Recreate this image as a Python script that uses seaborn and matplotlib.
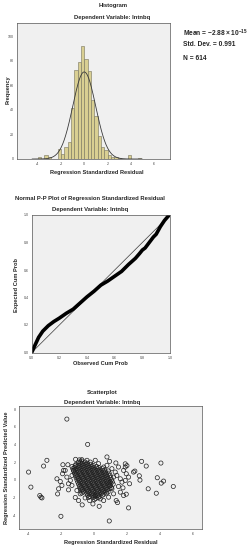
"""SPSS-style regression residual diagnostics: histogram, P-P plot, scatterplot"""

import numpy as np
import pandas as pd
import matplotlib
matplotlib.use("Agg")
import matplotlib.pyplot as plt
import seaborn as sns

# histogram of standardized residuals (bin index * width = left edge)
bin_width = 0.2875
bin_index = list(range(-14, 17))
bin_counts = [2, 0, 3, 2, 0, 0, 8, 4, 10, 14, 42, 73, 79, 92, 82, 72,
              48, 35, 19, 10, 7, 3, 2, 2, 1, 0, 0, 3, 0, 0, 1]
resid_mean = -2.88e-15
resid_sd = 0.991
n_obs = 614

# normal P-P plot
obs_cum = [0.0, 0.02, 0.05, 0.08, 0.12, 0.16, 0.20, 0.25, 0.30, 0.35, 0.40,
           0.45, 0.50, 0.55, 0.60, 0.65, 0.70, 0.75, 0.78, 0.80, 0.82, 0.85,
           0.88, 0.90, 0.93, 0.96, 0.99, 1.0]
exp_cum = [0.0, 0.045, 0.11, 0.155, 0.195, 0.225, 0.25, 0.285, 0.315, 0.36,
           0.405, 0.445, 0.49, 0.52, 0.555, 0.59, 0.64, 0.685, 0.72, 0.745,
           0.76, 0.80, 0.84, 0.86, 0.915, 0.96, 0.995, 1.0]

# scatterplot: isolated points
out_x = [-1.66, -0.40, -3.98, -3.84, -2.87, -3.07, -3.30, -3.23, -3.17, -2.02,
         -2.22, -2.16, -2.26, -2.06, -1.96, -1.92, -1.86, -1.90, -1.60, -1.56,
         -1.13, -1.15, -0.73, -0.08, 0.30, 0.91, 0.93, 1.31, 1.88, 2.08,
         1.94, 1.33, 1.41, 2.38, 2.46, 2.73, 2.77, 2.87, 3.15, 3.27,
         3.76, 3.82, 4.04, 4.06, 4.20, 4.79]
out_y = [6.86, 4.00, 0.87, -0.83, 2.20, 1.55, -1.78, -1.97, -2.05, -4.13,
         -1.60, -1.02, 0.11, -0.19, -0.64, 0.68, 1.06, 1.70, 1.70, -1.14,
         2.31, -2.00, -2.84, -2.73, -3.00, -4.66, 2.08, 1.90, 1.44, -3.18,
         -1.63, -2.35, -2.58, 0.87, 0.98, 0.45, -0.04, 2.08, 1.55, -1.02,
         -1.52, 0.23, 1.89, -0.38, -0.15, -0.76]

# scatterplot: points around the dense core
mid_x = [-0.95, -0.75, -0.44, -0.24, 0.06, 0.26, 0.57, 0.77, 1.07, 1.27,
         1.37, 1.58, 1.68, 1.47, 1.74, 1.88, 1.58, 1.17, 0.87, 0.57,
         0.36, 0.06, -0.28, -0.55, -0.85, -1.05, -1.35, -1.45, -1.35, -1.25,
         -1.15, -1.66, -1.56, -1.76, 0.97, 1.17, 1.47, 1.78, 1.94, 2.08,
         2.14, 1.78, 1.07, 0.77, -0.95, 1.88, 1.98]
mid_y = [2.0, 2.27, 2.2, 2.0, 2.2, 1.82, 1.44, 1.63, 1.25, 0.87,
         0.49, 0.11, -0.27, -0.76, -0.91, -0.08, -1.4, -1.59, -1.97, -2.35,
         -2.16, -1.78, -2.35, -2.05, -1.59, -1.21, -0.64, -0.08, 0.49, 1.06,
         1.63, 0.3, -0.45, 1.06, -0.27, 0.3, 1.44, 1.06, 0.68, 0.3,
         -0.45, -1.78, -1.02, 2.58, -2.35, 1.8, 1.6]

# scatterplot: dense core, one row per diagonal band
core_x = [
    -0.75, -0.80, -0.85, -0.90, -0.95, -1.00, -1.05, -1.10, -1.15, -1.20, -1.25, -1.30, -1.35,
    -0.66, -0.71, -0.76, -0.81, -0.86, -0.91, -0.96, -1.01, -1.06, -1.11, -1.16, -1.21,
    -0.35, -0.40, -0.45, -0.50, -0.55, -0.60, -0.65, -0.70, -0.75, -0.80, -0.85, -0.90, -0.95, -1.00, -1.05, -1.10,
    -0.26, -0.31, -0.36, -0.41, -0.46, -0.51, -0.56, -0.61, -0.66, -0.71, -0.76, -0.81, -0.86, -0.91, -0.96,
    0.00, -0.05, -0.10, -0.15, -0.20, -0.25, -0.30, -0.35, -0.40, -0.45, -0.50, -0.55, -0.60, -0.65, -0.70, -0.75, -0.80, -0.85, -0.90,
    0.09, 0.04, -0.01, -0.06, -0.11, -0.16, -0.21, -0.26, -0.31, -0.36, -0.41, -0.46, -0.51, -0.56, -0.61, -0.66, -0.71, -0.76,
    0.25, 0.20, 0.15, 0.10, 0.05, 0.00, -0.05, -0.10, -0.15, -0.20, -0.25, -0.30, -0.35, -0.40, -0.45, -0.50, -0.55,
    0.34, 0.29, 0.24, 0.19, 0.14, 0.09, 0.04, -0.01, -0.06, -0.11, -0.16, -0.21, -0.26, -0.31, -0.36, -0.41,
    0.50, 0.45, 0.40, 0.35, 0.30, 0.25, 0.20, 0.15, 0.10, 0.05, 0.00, -0.05, -0.10, -0.15, -0.20,
    0.59, 0.54, 0.49, 0.44, 0.39, 0.34, 0.29, 0.24, 0.19, 0.14, 0.09, 0.04, -0.01, -0.06,
    0.75, 0.70, 0.65, 0.60, 0.55, 0.50, 0.45, 0.40, 0.35, 0.30, 0.25, 0.20, 0.15,
    0.84, 0.79, 0.74, 0.69, 0.64, 0.59, 0.54, 0.49, 0.44, 0.39, 0.34, 0.29,
    0.95, 0.90, 0.85, 0.80, 0.75, 0.70, 0.65, 0.60, 0.55, 0.50,
    1.04, 0.99, 0.94, 0.89, 0.84, 0.79, 0.74, 0.69, 0.64,
    1.15, 1.10, 1.05, 1.00, 0.95, 0.90, 0.85,
]
core_y = [
    -1.5, -1.25, -1.0, -0.75, -0.5, -0.25, 0.0, 0.25, 0.5, 0.75, 1.0, 1.25, 1.5,
    -1.38, -1.13, -0.88, -0.63, -0.38, -0.13, 0.12, 0.37, 0.62, 0.87, 1.12, 1.37,
    -2.0, -1.75, -1.5, -1.25, -1.0, -0.75, -0.5, -0.25, 0.0, 0.25, 0.5, 0.75, 1.0, 1.25, 1.5, 1.75,
    -1.88, -1.63, -1.38, -1.13, -0.88, -0.63, -0.38, -0.13, 0.12, 0.37, 0.62, 0.87, 1.12, 1.37, 1.62,
    -2.25, -2.0, -1.75, -1.5, -1.25, -1.0, -0.75, -0.5, -0.25, 0.0, 0.25, 0.5, 0.75, 1.0, 1.25, 1.5, 1.75, 2.0, 2.25,
    -2.13, -1.88, -1.63, -1.38, -1.13, -0.88, -0.63, -0.38, -0.13, 0.12, 0.37, 0.62, 0.87, 1.12, 1.37, 1.62, 1.87, 2.12,
    -2.0, -1.75, -1.5, -1.25, -1.0, -0.75, -0.5, -0.25, 0.0, 0.25, 0.5, 0.75, 1.0, 1.25, 1.5, 1.75, 2.0,
    -1.88, -1.63, -1.38, -1.13, -0.88, -0.63, -0.38, -0.13, 0.12, 0.37, 0.62, 0.87, 1.12, 1.37, 1.62, 1.87,
    -1.75, -1.5, -1.25, -1.0, -0.75, -0.5, -0.25, 0.0, 0.25, 0.5, 0.75, 1.0, 1.25, 1.5, 1.75,
    -1.63, -1.38, -1.13, -0.88, -0.63, -0.38, -0.13, 0.12, 0.37, 0.62, 0.87, 1.12, 1.37, 1.62,
    -1.5, -1.25, -1.0, -0.75, -0.5, -0.25, 0.0, 0.25, 0.5, 0.75, 1.0, 1.25, 1.5,
    -1.38, -1.13, -0.88, -0.63, -0.38, -0.13, 0.12, 0.37, 0.62, 0.87, 1.12, 1.37,
    -1.0, -0.75, -0.5, -0.25, 0.0, 0.25, 0.5, 0.75, 1.0, 1.25,
    -0.88, -0.63, -0.38, -0.13, 0.12, 0.37, 0.62, 0.87, 1.12,
    -0.5, -0.25, 0.0, 0.25, 0.5, 0.75, 1.0,
]

W, H = 252, 550
BG = "#F0F0F0"
EDGE = "#555555"


def px(x, y):
    """pixel position in the picture -> figure fraction"""
    return x / W, 1 - y / H


def style_axes(ax):
    ax.set_facecolor(BG)
    for s in ax.spines.values():
        s.set_visible(True)
        s.set_color(EDGE)
        s.set_linewidth(0.5)
    ax.tick_params(labelsize=2.6, color=EDGE, labelcolor="#444444",
                   length=1.5, width=0.4, pad=0.8, direction="out")
    ax.set_xlabel("")
    ax.set_ylabel("")


def label(fig, x, y, text, size=4.25, **kw):
    fx, fy = px(x, y)
    fig.text(fx, fy, text, fontsize=size, fontweight="bold", ha=kw.pop("ha", "center"),
             va="center", **kw)


sns.set_style("white")
plt.rcParams["font.family"] = ["Liberation Sans", "DejaVu Sans"]
plt.rcParams["mathtext.fontset"] = "custom"
plt.rcParams["mathtext.rm"] = "Liberation Sans:bold"
plt.rcParams["mathtext.bf"] = "Liberation Sans:bold"
plt.rcParams["axes.unicode_minus"] = False

fig = plt.figure(figsize=(W / 100, H / 100), dpi=100)

# ---- Histogram ----
ax1 = fig.add_axes([17 / W, 1 - 159 / H, 153 / W, 136 / H])
hist_df = pd.DataFrame({
    "resid": [(i + 0.5) * bin_width for i in bin_index],
    "count": bin_counts,
})
edges = [i * bin_width for i in bin_index] + [(bin_index[-1] + 1) * bin_width]
sns.histplot(data=hist_df, x="resid", weights="count", bins=edges, ax=ax1,
             color="#D9CF92", edgecolor="#76735c", linewidth=0.4, alpha=1)
grid = np.linspace(-4.5, 5.0, 300)
curve = n_obs * bin_width * np.exp(-0.5 * ((grid - resid_mean) / resid_sd) ** 2) / (resid_sd * np.sqrt(2 * np.pi))
sns.lineplot(x=grid, y=curve, ax=ax1, color="#3a3a3a", linewidth=0.6)
ax1.set_xlim(-5.8, 7.4)
ax1.set_ylim(0, 111)
ax1.set_xticks([-4, -2, 0, 2, 4, 6])
ax1.set_yticks([0, 20, 40, 60, 80, 100])
style_axes(ax1)

label(fig, 113.5, 6, "Histogram")
label(fig, 112.5, 18, "Dependent Variable: lntnbq")
label(fig, 96.7, 172.3, "Regression Standardized Residual", size=4.1)
label(fig, 7.7, 90, "Frequency", size=4.1, rotation=90)
label(fig, 183, 33, r"Mean = $-2.88 \times 10^{-15}$", size=4.8, ha="left")
label(fig, 183, 44.5, "Std. Dev. = 0.991", size=4.8, ha="left")
label(fig, 183, 58, f"N = {n_obs}", size=4.8, ha="left")

# ---- Normal P-P plot ----
ax2 = fig.add_axes([31.7 / W, 1 - 352.5 / H, 138.3 / W, 137.5 / H])
ax2.plot([0, 1], [0, 1], color="#3a3a3a", linewidth=0.5)
sns.lineplot(x=obs_cum, y=exp_cum, ax=ax2, sort=False, color="black",
             linewidth=2.6, solid_capstyle="round")
ax2.set_xlim(0, 1)
ax2.set_ylim(0, 1)
ticks = [0.0, 0.2, 0.4, 0.6, 0.8, 1.0]
ax2.set_xticks(ticks)
ax2.set_yticks(ticks)
ax2.set_xticklabels([f"{t:.1f}" for t in ticks])
ax2.set_yticklabels([f"{t:.1f}" for t in ticks])
style_axes(ax2)

label(fig, 90, 198.3, "Normal P-P Plot of Regression Standardized Residual")
label(fig, 90, 209.5, "Dependent Variable: lntnbq")
label(fig, 100.8, 363.5, "Observed Cum Prob", size=4.1)
label(fig, 16.7, 285, "Expected Cum Prob", size=4.1, rotation=90)

# ---- Scatterplot ----
ax3 = fig.add_axes([19 / W, 1 - 529.3 / H, 183 / W, 123.3 / H])
scat_df = pd.DataFrame({
    "resid": core_x + mid_x + out_x,
    "pred": core_y + mid_y + out_y,
})
sns.scatterplot(data=scat_df, x="resid", y="pred", ax=ax3, marker="o",
                s=9, facecolor="none", edgecolor="#1e1e1e", linewidth=0.5)
ax3.set_xlim(-4.56, 6.53)
ax3.set_ylim(-5.6, 8.34)
ax3.set_xticks([-4, -2, 0, 2, 4, 6])
ax3.set_yticks([-4, -2, 0, 2, 4, 6, 8])
style_axes(ax3)

label(fig, 102, 392.7, "Scatterplot")
label(fig, 102.3, 402.3, "Dependent Variable: lntnbq")
label(fig, 111, 542.3, "Regression Standardized Residual", size=4.1)
label(fig, 7, 468, "Regression Standardized Predicted Value", size=4.1, rotation=90)

fig.savefig("out.png", dpi=100, facecolor="white")
